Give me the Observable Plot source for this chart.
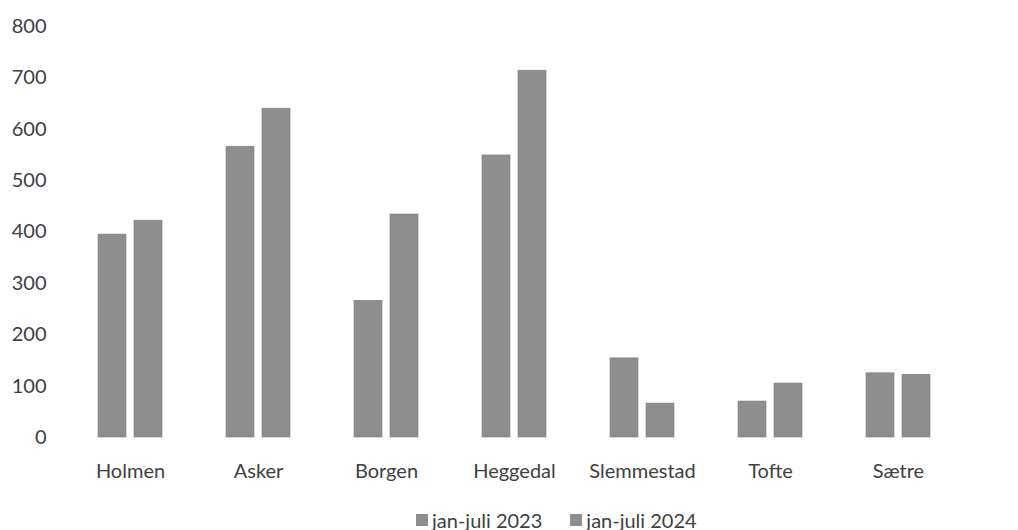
<!DOCTYPE html>
<html><head><meta charset="utf-8">
<script src="https://cdn.jsdelivr.net/npm/d3@7"></script>
<script src="https://cdn.jsdelivr.net/npm/@observablehq/plot@0.6"></script>
<style>
body{margin:0;background:#fff;font-family:Lato,sans-serif;}
#chart{position:absolute;left:0;top:0;}
#legend{position:absolute;left:416px;top:508px;display:flex;align-items:center;font-size:20px;color:#404040;line-height:24px;white-space:nowrap;}
#legend .item{display:flex;align-items:center;margin-right:28px;}
#legend .sw{width:12px;height:12px;margin-right:4px;display:inline-block;}
</style></head><body><div id="chart"></div><div id="legend"></div>
<script>
const categories = ["Holmen","Asker","Borgen","Heggedal","Slemmestad","Tofte","Sætre"];
const series = ["jan-juli 2023","jan-juli 2024"];
const values2023 = [395,566,266,549,154,70,125];
const values2024 = [422,640,434,714,66,105,122];
const yTicks = [0,100,200,300,400,500,600,700,800];
const seriesColors = ["#8e8e8e","#8e8e8e"];

const data = [];
categories.forEach((c,i)=>{
  data.push({category:c, series:series[0], value:values2023[i]});
  data.push({category:c, series:series[1], value:values2024[i]});
});

const chart = Plot.plot({
  width:1018, height:505,
  marginLeft:66, marginRight:56, marginTop:26, marginBottom:68,
  style:{fontFamily:"Lato, sans-serif", fontSize:"20px", color:"#404040", background:"white"},
  fx:{domain:categories, paddingInner:0.5, paddingOuter:0.25, label:null, axis:"bottom", tickSize:0, tickPadding:26},
  x:{domain:series, axis:null, paddingInner:8/36, paddingOuter:0},
  y:{domain:[0,800], ticks:yTicks, tickSize:0, tickPadding:52, label:null},
  color:{domain:series, range:seriesColors},
  marks:[
    Plot.barY(data,{fx:"category", x:"series", y:"value", fill:"series", stroke:"#7f7f7f", strokeWidth:0.6})
  ]
});
document.getElementById("chart").appendChild(chart);

const legend = document.getElementById("legend");
series.forEach((s,i)=>{
  const item = document.createElement("span");
  item.className = "item";
  const sw = document.createElement("span");
  sw.className = "sw";
  sw.style.background = seriesColors[i];
  item.appendChild(sw);
  item.appendChild(document.createTextNode(s));
  legend.appendChild(item);
});
</script>
</body></html>
